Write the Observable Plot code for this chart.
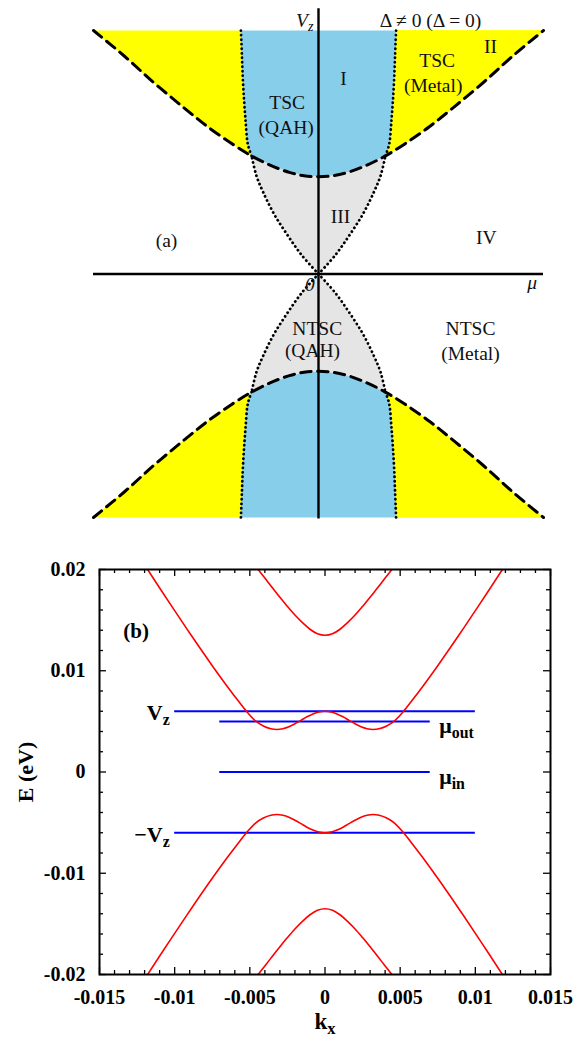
<!DOCTYPE html>
<html><head><meta charset="utf-8">
<script src="https://cdn.jsdelivr.net/npm/d3@7"></script>
<script src="https://cdn.jsdelivr.net/npm/@observablehq/plot@0.6"></script>
<style>
body{margin:0;background:#fff;}
#chart{width:587px;}
#chart svg{display:block;}
</style></head><body><div id="chart"></div>
<script>
// ===== Panel (a): phase diagram, mu and Vz in units of Delta =====
// dashed boundary (upper branch)
const dashMu = [-2.32, -2.0, -1.7, -1.4, -1.15, -0.9, -0.69, -0.5, -0.3, -0.15, 0, 0.15, 0.3, 0.5, 0.69, 0.9, 1.15, 1.4, 1.7, 2.0, 2.32];
const dashVz = [2.505, 2.24, 1.97, 1.72, 1.52, 1.345, 1.215, 1.12, 1.045, 1.011, 1.0, 1.011, 1.045, 1.12, 1.215, 1.345, 1.52, 1.72, 1.97, 2.24, 2.505];
// dotted near-vertical boundary (right, upper), from the dashed curve up to the top edge
const sideMu = [0.69, 0.72, 0.735, 0.75, 0.765, 0.78, 0.79, 0.80];
const sideVz = [1.215, 1.30, 1.37, 1.55, 1.75, 2.0, 2.25, 2.505];
// dotted curve bounding region III (right, upper), from the origin to the dashed curve
const grayMu = [0, 0.17, 0.32, 0.46, 0.57, 0.64, 0.69];
const grayVz = [0, 0.19, 0.40, 0.62, 0.84, 1.01, 1.215];
const regionColors = {tsc: "#ffff00", qah: "#87ceeb", gap: "#e5e5e5"};

// ===== Panel (b): band structure =====
const outerK = [-0.0118, -0.0103, -0.0089, -0.0075, -0.0065, -0.0058, -0.0052, -0.0046, -0.0041, -0.0036, -0.0032, -0.0028, -0.0024, -0.0020, -0.0016, -0.0012, -0.0008, -0.0004, 0, 0.0004, 0.0008, 0.0012, 0.0016, 0.0020, 0.0024, 0.0028, 0.0032, 0.0036, 0.0041, 0.0046, 0.0052, 0.0058, 0.0065, 0.0075, 0.0089, 0.0103, 0.0118];
const outerUpE = [0.0200, 0.0166, 0.0135, 0.0105, 0.00845, 0.00708, 0.00595, 0.00502, 0.00454, 0.00427, 0.00420, 0.00427, 0.00446, 0.00476, 0.00510, 0.00545, 0.00574, 0.00593, 0.00600, 0.00593, 0.00574, 0.00545, 0.00510, 0.00476, 0.00446, 0.00427, 0.00420, 0.00427, 0.00454, 0.00502, 0.00595, 0.00708, 0.00845, 0.0105, 0.0135, 0.0166, 0.0200];
const outerDnE = [-0.0200, -0.0166, -0.0135, -0.0105, -0.00845, -0.00708, -0.00595, -0.00502, -0.00454, -0.00427, -0.00420, -0.00427, -0.00446, -0.00476, -0.00510, -0.00545, -0.00574, -0.00593, -0.00600, -0.00593, -0.00574, -0.00545, -0.00510, -0.00476, -0.00446, -0.00427, -0.00420, -0.00427, -0.00454, -0.00502, -0.00595, -0.00708, -0.00845, -0.0105, -0.0135, -0.0166, -0.0200];
const innerK = [-0.0045, -0.0040, -0.0035, -0.0030, -0.0025, -0.0020, -0.0015, -0.0010, -0.0005, 0, 0.0005, 0.0010, 0.0015, 0.0020, 0.0025, 0.0030, 0.0035, 0.0040, 0.0045];
const innerUpE = [0.0201, 0.01915, 0.0182, 0.01725, 0.01635, 0.0155, 0.01475, 0.0141, 0.01365, 0.0135, 0.01365, 0.0141, 0.01475, 0.0155, 0.01635, 0.01725, 0.0182, 0.01915, 0.0201];
const innerDnE = [-0.0201, -0.01915, -0.0182, -0.01725, -0.01635, -0.0155, -0.01475, -0.0141, -0.01365, -0.0135, -0.01365, -0.0141, -0.01475, -0.0155, -0.01635, -0.01725, -0.0182, -0.01915, -0.0201];
// horizontal levels
const levelE = [0.006, 0.005, 0, -0.006];
const levelK1 = [-0.010, -0.007, -0.007, -0.010];
const levelK2 = [0.010, 0.007, 0.007, 0.010];
const levelLabel = ["V_z", "μ_out", "μ_in", "−V_z"];
const levelSide = ["left", "right", "right", "left"];
// ticks
const kTicks = [-0.015, -0.01, -0.005, 0, 0.005, 0.01, 0.015];
const kTickLabels = ["-0.015", "-0.01", "-0.005", "0", "0.005", "0.01", "0.015"];
const eTicks = [-0.02, -0.01, 0, 0.01, 0.02];
const eTickLabels = ["-0.02", "-0.01", "0", "0.01", "0.02"];

// ---------- helpers ----------
function subscriptify(svg) {
  d3.select(svg).selectAll("text").each(function () {
    if (this.querySelector("tspan")) return;
    const t = this.textContent;
    const i = t.indexOf("_");
    if (i < 0) return;
    this.textContent = "";
    const s = d3.select(this);
    s.append("tspan").text(t.slice(0, i));
    s.append("tspan").attr("dy", "0.3em").attr("font-size", "0.72em").text(t.slice(i + 1));
  });
  return svg;
}

// ---------- build panel (a) ----------
const hyp = dashMu.map((m, i) => ({m, v: dashVz[i]}));
const eps = 1e-9;
const center = hyp.filter(d => Math.abs(d.m) <= 0.69 + eps);
const rightOuter = hyp.filter(d => d.m >= 0.69 - eps);
const leftOuter = hyp.filter(d => d.m <= -0.69 + eps);
const sideR = sideMu.map((m, i) => ({m, v: sideVz[i]}));
const sideL = sideR.map(d => ({m: -d.m, v: d.v}));
const grayR = grayMu.map((m, i) => ({m, v: grayVz[i]}));
const grayL = grayR.map(d => ({m: -d.m, v: d.v}));
const flip = arr => arr.map(d => ({m: d.m, v: -d.v}));
const rev = arr => arr.slice().reverse();

const polyYellowL = [...leftOuter, ...sideL];
const polyBlue = [...rev(sideL), ...center, ...sideR];
const polyYellowR = [...rightOuter, ...rev(sideR)];
const polyGray = [...grayL, ...center, ...rev(grayR)];
const polys = [
  [polyYellowL, regionColors.tsc], [polyYellowR, regionColors.tsc], [polyBlue, regionColors.qah], [polyGray, regionColors.gap],
  [flip(polyYellowL), regionColors.tsc], [flip(polyYellowR), regionColors.tsc], [flip(polyBlue), regionColors.qah], [flip(polyGray), regionColors.gap]
];
const dottedCurves = [sideR, sideL, grayR, grayL, flip(sideR), flip(sideL), flip(grayR), flip(grayL)];

const serifA = '"Liberation Serif", "Times New Roman", serif';
const labA = (text, m, v, o = {}) => Plot.text([0], {x: () => m, y: () => v, text: () => text, fontSize: 19.5, fontFamily: serifA, fill: "#111", ...o});

const plotA = Plot.plot({
  width: 587, height: 545,
  marginLeft: 93, marginRight: 44, marginTop: 30, marginBottom: 28,
  x: {domain: [-2.32, 2.32], axis: null},
  y: {domain: [-2.505, 2.505], axis: null},
  style: {background: "white", overflow: "visible"},
  marks: [
    ...polys.map(([p, c]) => Plot.line(p, {x: "m", y: "v", fill: c, stroke: c, strokeWidth: 0.8})),
    ...dottedCurves.map(c => Plot.line(c, {x: "m", y: "v", stroke: "black", strokeWidth: 2.8, strokeDasharray: "0.1,4.4", strokeLinecap: "round", curve: "catmull-rom"})),
    Plot.line(hyp, {x: "m", y: "v", stroke: "black", strokeWidth: 3, strokeDasharray: "10.5,6.5", curve: "catmull-rom"}),
    Plot.line(flip(hyp), {x: "m", y: "v", stroke: "black", strokeWidth: 3, strokeDasharray: "10.5,6.5", curve: "catmull-rom"}),
    Plot.ruleY([0], {x1: -2.32, x2: 2.32, stroke: "black", strokeWidth: 2.4}),
    Plot.ruleX([0], {y1: -2.52, y2: 2.73, stroke: "black", strokeWidth: 2.4}),
    labA("V_z", 0, 2.61, {textAnchor: "end", dx: -5, fontStyle: "italic"}),
    labA("Δ ≠ 0 (Δ = 0)", 1.155, 2.61),
    labA("I", 0.258, 2.01),
    labA("II", 1.773, 2.333),
    labA("TSC", 1.224, 2.189),
    labA("(Metal)", 1.182, 1.938),
    labA("TSC", -0.323, 1.766),
    labA("(QAH)", -0.333, 1.508),
    labA("III", 0.227, 0.588),
    labA("(a)", -1.567, 0.34),
    labA("IV", 1.729, 0.368),
    labA("0", -0.09, -0.106, {fontStyle: "italic"}),
    labA("μ", 2.203, -0.09, {fontStyle: "italic"}),
    labA("NTSC", -0.013, -0.567),
    labA("(QAH)", -0.062, -0.794),
    labA("NTSC", 1.567, -0.567),
    labA("(Metal)", 1.567, -0.825)
  ]
});

// ---------- build panel (b) ----------
const serifB = '"Liberation Serif", "Times New Roman", serif';
const pxE = 0.04 / 405, pxK = 0.03 / 451;
const kAll = d3.range(-15, 16).map(i => ({k: i / 1000, major: i % 5 === 0}));
const eAll = d3.range(-10, 11).map(i => ({e: i * 0.002, major: i % 5 === 0}));
const tl = d => (d.major ? 7 : 4);
const levels = levelE.map((e, i) => ({e, k1: levelK1[i], k2: levelK2[i], label: levelLabel[i], side: levelSide[i]}));
const band = (ks, es) => ks.map((k, i) => ({k, E: es[i]}));
const bands = [band(outerK, outerUpE), band(outerK, outerDnE), band(innerK, innerUpE), band(innerK, innerDnE)];

const plotB = Plot.plot({
  width: 587, height: 495,
  marginLeft: 99, marginRight: 37, marginTop: 24, marginBottom: 66,
  x: {domain: [-0.015, 0.015], axis: null},
  y: {domain: [-0.02, 0.02], axis: null},
  style: {background: "white", overflow: "visible"},
  marks: [
    Plot.ruleY(levels, {y: "e", x1: "k1", x2: "k2", stroke: "#0000ff", strokeWidth: 2}),
    ...bands.map(b => Plot.line(b, {x: "k", y: "E", stroke: "#ff0000", strokeWidth: 1.6, curve: "catmull-rom", clip: true})),
    Plot.ruleX(kAll, {x: "k", y1: -0.02, y2: d => -0.02 + tl(d) * pxE, stroke: "black", strokeWidth: 1.3}),
    Plot.ruleX(kAll, {x: "k", y1: 0.02, y2: d => 0.02 - tl(d) * pxE, stroke: "black", strokeWidth: 1.3}),
    Plot.ruleY(eAll, {y: "e", x1: -0.015, x2: d => -0.015 + tl(d) * pxK, stroke: "black", strokeWidth: 1.3}),
    Plot.ruleY(eAll, {y: "e", x1: 0.015, x2: d => 0.015 - tl(d) * pxK, stroke: "black", strokeWidth: 1.3}),
    Plot.frame({stroke: "black", strokeWidth: 2}),
    Plot.text(eTicks, {x: -0.015, y: d => d, text: (d, i) => eTickLabels[i], textAnchor: "end", dx: -14, fontSize: 20, fontWeight: "bold", fontFamily: serifB, fill: "black"}),
    Plot.text(kTicks, {x: d => d, y: -0.02, text: (d, i) => kTickLabels[i], dy: 23, fontSize: 20, fontWeight: "bold", fontFamily: serifB, fill: "black"}),
    Plot.text(["E (eV)"], {x: -0.015, y: 0, dx: -74, rotate: -90, fontSize: 22, fontWeight: "bold", fontFamily: serifB, fill: "black"}),
    Plot.text(["k_x"], {x: 0, y: -0.02, dy: 47, fontSize: 23, fontWeight: "bold", fontFamily: serifB, fill: "black"}),
    Plot.text(["(b)"], {x: -0.01257, y: 0.01388, fontSize: 21, fontWeight: "bold", fontFamily: serifB, fill: "black"}),
    Plot.text(levels.filter(d => d.side === "left"), {x: "k1", y: "e", text: "label", textAnchor: "end", dx: -5, dy: 2, fontSize: 22, fontWeight: "bold", fontFamily: serifB, fill: "black"}),
    Plot.text(levels.filter(d => d.side === "right"), {x: "k2", y: "e", text: "label", textAnchor: "start", dx: 9, dy: 5, fontSize: 22, fontWeight: "bold", fontFamily: serifB, fill: "black"})
  ]
});

const root = document.getElementById("chart");
root.appendChild(subscriptify(plotA));
root.appendChild(subscriptify(plotB));
</script></body></html>
